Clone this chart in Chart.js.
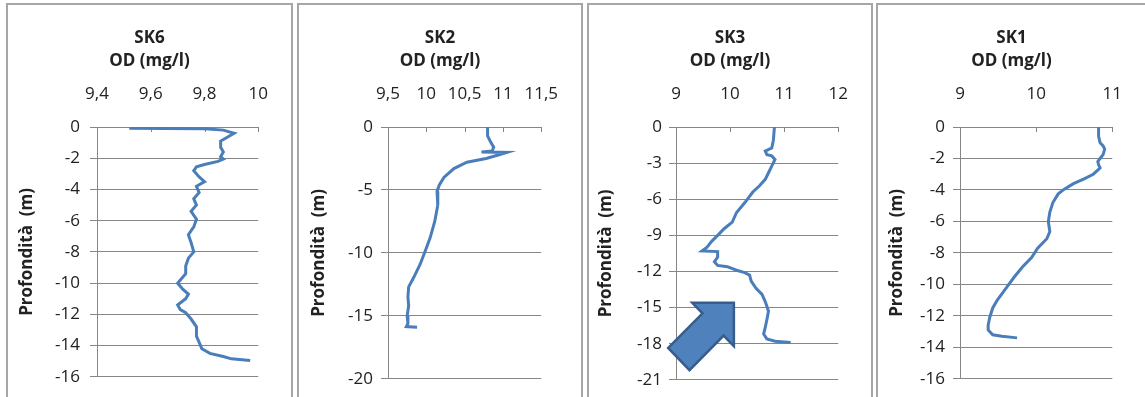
<!DOCTYPE html>
<html>
<head>
<meta charset="utf-8">
<script src="https://cdn.jsdelivr.net/npm/chart.js@4"></script>
<style>
    html, body { margin: 0; padding: 0; background: #fff; width: 1145px; height: 397px; overflow: hidden; }
    .panel { position: absolute; top: 3px; height: 420px; border: 2px solid #a6a6a6; box-sizing: border-box; background: #fff; }
    .panel canvas { position: absolute; left: 0; top: 0; }
</style>
</head>
<body>
<div class="panel" style="left:6px;width:287px"><canvas id="sk6" width="283" height="392"></canvas></div>
<div class="panel" style="left:297px;width:286px"><canvas id="sk2" width="282" height="392"></canvas></div>
<div class="panel" style="left:587px;width:286px"><canvas id="sk3" width="282" height="392"></canvas></div>
<div class="panel" style="left:876px;width:300px"><canvas id="sk1" width="267" height="392"></canvas></div>
<script>
// OD (mg/l) vs depth (m)
const SK6_OD = [9.52, 9.65, 9.80, 9.87, 9.91, 9.88, 9.86, 9.86, 9.87, 9.86, 9.87, 9.85, 9.80, 9.77, 9.76, 9.78, 9.80, 9.77, 9.78, 9.76, 9.77, 9.75, 9.77, 9.76, 9.74, 9.75, 9.76, 9.74, 9.73, 9.73, 9.71, 9.70, 9.72, 9.74, 9.73, 9.70, 9.71, 9.73, 9.75, 9.77, 9.77, 9.78, 9.79, 9.82, 9.87, 9.90, 9.97];
const SK6_DEPTH = [-0.08, -0.1, -0.12, -0.2, -0.4, -0.7, -0.9, -1.3, -1.6, -1.9, -2.05, -2.2, -2.4, -2.55, -2.8, -3.2, -3.5, -3.8, -4.2, -4.6, -5.0, -5.4, -5.9, -6.4, -6.9, -7.4, -8.0, -8.4, -8.9, -9.4, -9.8, -10.0, -10.4, -10.7, -11.0, -11.4, -11.7, -11.9, -12.3, -12.8, -13.4, -13.8, -14.2, -14.5, -14.7, -14.85, -14.95];

const SK2_OD = [10.80, 10.80, 10.84, 10.88, 10.86, 10.72, 11.05, 10.95, 10.78, 10.53, 10.36, 10.23, 10.17, 10.14, 10.15, 10.11, 10.05, 9.98, 9.92, 9.84, 9.77, 9.76, 9.77, 9.75, 9.76, 9.74, 9.88];
const SK2_DEPTH = [0, -0.7, -1.2, -1.6, -1.9, -1.98, -2.02, -2.2, -2.5, -2.8, -3.3, -4.0, -4.6, -5.1, -6.2, -7.5, -8.8, -9.95, -10.9, -11.9, -12.7, -13.5, -14.2, -15.0, -15.6, -15.85, -15.9];

const SK3_OD = [10.82, 10.80, 10.77, 10.65, 10.68, 10.77, 10.83, 10.77, 10.71, 10.65, 10.54, 10.42, 10.27, 10.12, 10.04, 9.89, 9.77, 9.66, 9.57, 9.48, 9.77, 9.77, 9.71, 9.77, 9.95, 10.12, 10.27, 10.36, 10.39, 10.48, 10.59, 10.65, 10.71, 10.68, 10.65, 10.62, 10.68, 10.83, 11.12];
const SK3_DEPTH = [0, -1.1, -1.75, -2.0, -2.3, -2.4, -2.7, -3.25, -3.8, -4.35, -4.9, -5.4, -6.3, -7.1, -7.9, -8.45, -9.0, -9.5, -10.0, -10.3, -10.35, -10.8, -11.2, -11.5, -11.6, -11.9, -12.1, -12.3, -12.8, -13.4, -13.9, -14.5, -15.3, -16.0, -16.65, -17.2, -17.6, -17.8, -17.9];

const SK1_OD = [10.82, 10.82, 10.84, 10.88, 10.90, 10.88, 10.84, 10.81, 10.82, 10.84, 10.82, 10.75, 10.63, 10.49, 10.37, 10.29, 10.22, 10.18, 10.16, 10.18, 10.14, 10.02, 9.94, 9.82, 9.71, 9.61, 9.55, 9.49, 9.43, 9.39, 9.37, 9.37, 9.43, 9.55, 9.75];
const SK1_DEPTH = [0, -0.6, -1.0, -1.2, -1.4, -1.75, -2.0, -2.2, -2.4, -2.6, -2.7, -3.0, -3.3, -3.6, -3.95, -4.25, -4.8, -5.4, -6.0, -6.65, -7.1, -7.7, -8.3, -8.9, -9.55, -10.2, -10.6, -11.0, -11.5, -12.1, -12.6, -12.9, -13.2, -13.3, -13.4];

// axis ranges: [min, max, step]
const SK6_X_AXIS = [9.4, 10, 0.2];
const SK6_Y_AXIS = [-16, 0, 2];
const SK2_X_AXIS = [9.5, 11.5, 0.5];
const SK2_Y_AXIS = [-20, 0, 5];
const SK3_X_AXIS = [9, 12, 1];
const SK3_Y_AXIS = [-21, 0, 3];
const SK1_X_AXIS = [9, 11, 1];
const SK1_Y_AXIS = [-16, 0, 2];

// block arrow over SK3, outline in data units (OD, depth)
const ARROW_SK3_OD = [10.07, 10.07, 9.88, 9.25, 8.855, 9.49, 9.30];
const ARROW_SK3_DEPTH = [-14.6, -18.21, -17.33, -20.2, -18.35, -15.48, -14.6];

const GRID = '#868686';
const LINE = '#4a7ebb';
const TEXT = '#222222';
Chart.defaults.font.family = '"Open Sans", sans-serif';
Chart.defaults.font.size = 17;
Chart.defaults.color = TEXT;

function fmt(v) {
    return String(Math.round(v * 100) / 100).replace('.', ',');
}

const innerTicks = {
    id: 'innerTicks',
    beforeDatasetsDraw(chart) {
        const sx = chart.scales.x;
        const top = chart.chartArea.top;
        const ctx = chart.ctx;
        ctx.save();
        ctx.strokeStyle = GRID;
        ctx.lineWidth = 1;
        sx.ticks.forEach(t => {
            const px = Math.round(sx.getPixelForValue(t.value)) + 0.5;
            ctx.beginPath();
            ctx.moveTo(px, top);
            ctx.lineTo(px, top + 5);
            ctx.stroke();
        });
        ctx.restore();
    }
};

const blockArrow = {
    id: 'blockArrow',
    afterDraw(chart) {
        const sx = chart.scales.x, sy = chart.scales.y;
        const ctx = chart.ctx;
        ctx.save();
        ctx.beginPath();
        ARROW_SK3_OD.forEach((v, i) => {
            const px = sx.getPixelForValue(v);
            const py = sy.getPixelForValue(ARROW_SK3_DEPTH[i]);
            if (i === 0) ctx.moveTo(px, py); else ctx.lineTo(px, py);
        });
        ctx.closePath();
        ctx.fillStyle = '#4f81bd';
        ctx.fill();
        ctx.lineWidth = 2.5;
        ctx.lineJoin = 'miter';
        ctx.strokeStyle = '#385d8a';
        ctx.stroke();
        ctx.restore();
    }
};

function makePanel(id, name, od, depth, xAxis, yAxis, lay, extra) {
    const points = od.map((v, i) => ({x: v, y: depth[i]}));
    return new Chart(document.getElementById(id), {
        type: 'scatter',
        data: {
            datasets: [{
                data: points,
                showLine: true,
                borderColor: LINE,
                borderWidth: 3,
                pointRadius: 0,
                tension: 0,
                xAxisID: 'x',
                yAxisID: 'y'
            }]
        },
        options: {
            responsive: false,
            animation: false,
            devicePixelRatio: 1,
            layout: {padding: {left: 0, right: 0, top: 0, bottom: 14}},
            plugins: {
                legend: {display: false},
                tooltip: {enabled: false},
                title: {
                    display: true,
                    text: [name, 'OD (mg/l)'],
                    color: TEXT,
                    font: {size: 17, weight: 'bold', lineHeight: '23px'},
                    padding: {top: 22, bottom: 0}
                }
            },
            scales: {
                x: {
                    type: 'linear',
                    position: 'top',
                    min: xAxis[0],
                    max: xAxis[1],
                    ticks: {stepSize: xAxis[2], padding: 23, autoSkip: false, maxRotation: 0, callback: fmt},
                    grid: {color: 'transparent', drawTicks: false},
                    border: {color: GRID, width: 1},
                    afterFit: s => { s.height = 54; }
                },
                y: {
                    type: 'linear',
                    position: 'left',
                    min: yAxis[0],
                    max: yAxis[1],
                    ticks: {stepSize: yAxis[2], padding: lay.tickPad, callback: fmt},
                    grid: {color: GRID, lineWidth: 1, tickLength: 7},
                    border: {color: GRID, width: 1},
                    title: {
                        display: true,
                        text: 'Profondità  (m)',
                        color: TEXT,
                        font: {size: 17, weight: 'bold'},
                        padding: {top: lay.titlePad, bottom: 0}
                    },
                    afterFit: s => { s.width = lay.plotLeft; }
                },
                y2: {
                    type: 'linear',
                    position: 'right',
                    display: true,
                    grid: {display: false},
                    border: {display: false},
                    ticks: {display: false},
                    afterFit: s => { s.width = lay.padRight; }
                }
            }
        },
        plugins: extra ? [innerTicks, extra] : [innerTicks]
    });
}

makePanel('sk6', 'SK6', SK6_OD, SK6_DEPTH, SK6_X_AXIS, SK6_Y_AXIS, {plotLeft: 89, padRight: 27, tickPad: 10, titlePad: 8.8});
makePanel('sk2', 'SK2', SK2_OD, SK2_DEPTH, SK2_X_AXIS, SK2_Y_AXIS, {plotLeft: 89, padRight: 34, tickPad: 8, titlePad: 10.3});
makePanel('sk3', 'SK3', SK3_OD, SK3_DEPTH, SK3_X_AXIS, SK3_Y_AXIS, {plotLeft: 87, padRight: 24, tickPad: 7, titlePad: 6.8}, blockArrow);
makePanel('sk1', 'SK1', SK1_OD, SK1_DEPTH, SK1_X_AXIS, SK1_Y_AXIS, {plotLeft: 82, padRight: 13, tickPad: 8, titlePad: 8.8});
</script>
</body>
</html>
